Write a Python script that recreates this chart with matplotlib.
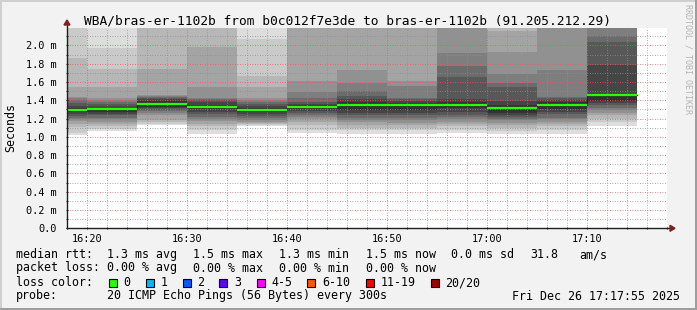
import matplotlib
matplotlib.use('Agg')
import matplotlib.pyplot as plt
import numpy as np
from matplotlib.patches import Rectangle, Polygon
from matplotlib.ticker import MultipleLocator, FuncFormatter

W, H = 697, 310
MONO = 'DejaVu Sans Mono'

# segment edges (minutes after 16:00), 5 min steps
edges = [18, 20, 25, 30, 35, 40, 45, 50, 55, 60, 65, 70, 75]
# median rtt per step (ms)
median = [1.296, 1.30, 1.36, 1.325, 1.296, 1.33, 1.348, 1.348, 1.348, 1.31, 1.35, 1.457]
# 20 sorted pings per step (ms), values above the top of the graph are cut off
pings = [
    [1.016, 1.04, 1.107, 1.14, 1.17, 1.19, 1.21, 1.23, 1.245, 1.27, 1.32, 1.34, 1.37, 1.40, 1.42, 1.435, 1.545, 1.866, 2.3, 2.4],
    [1.06, 1.09, 1.12, 1.14, 1.165, 1.19, 1.21, 1.238, 1.255, 1.275, 1.32, 1.34, 1.36, 1.38, 1.40, 1.42, 1.55, 1.745, 1.97, 2.3],
    [1.13, 1.145, 1.16, 1.18, 1.238, 1.26, 1.28, 1.295, 1.31, 1.33, 1.39, 1.41, 1.43, 1.44, 1.45, 1.46, 1.745, 2.3, 2.35, 2.4],
    [1.035, 1.08, 1.12, 1.14, 1.17, 1.19, 1.22, 1.25, 1.27, 1.30, 1.35, 1.38, 1.40, 1.41, 1.42, 1.55, 1.98, 2.3, 2.35, 2.4],
    [1.12, 1.125, 1.135, 1.15, 1.165, 1.18, 1.21, 1.23, 1.25, 1.27, 1.32, 1.34, 1.36, 1.38, 1.40, 1.42, 1.545, 1.67, 2.07, 2.3],
    [1.04, 1.08, 1.13, 1.165, 1.20, 1.22, 1.24, 1.26, 1.28, 1.30, 1.35, 1.36, 1.38, 1.43, 1.49, 1.61, 2.3, 2.35, 2.4, 2.45],
    [1.035, 1.07, 1.10, 1.13, 1.16, 1.18, 1.21, 1.24, 1.265, 1.29, 1.38, 1.41, 1.446, 1.50, 1.59, 1.73, 2.3, 2.35, 2.4, 2.45],
    [1.03, 1.08, 1.10, 1.13, 1.15, 1.18, 1.21, 1.238, 1.265, 1.29, 1.37, 1.39, 1.41, 1.43, 1.56, 1.61, 2.3, 2.35, 2.4, 2.45],
    [1.04, 1.08, 1.12, 1.14, 1.165, 1.19, 1.22, 1.24, 1.27, 1.31, 1.38, 1.41, 1.657, 1.77, 1.92, 2.3, 2.35, 2.4, 2.45, 2.5],
    [1.035, 1.06, 1.10, 1.13, 1.15, 1.18, 1.20, 1.22, 1.24, 1.26, 1.35, 1.39, 1.548, 1.59, 1.683, 1.927, 2.156, 2.3, 2.35, 2.4],
    [1.035, 1.07, 1.12, 1.14, 1.165, 1.19, 1.21, 1.25, 1.275, 1.30, 1.38, 1.40, 1.42, 1.438, 1.73, 2.3, 2.35, 2.4, 2.45, 2.5],
    [1.12, 1.16, 1.20, 1.24, 1.265, 1.29, 1.32, 1.35, 1.37, 1.39, 1.47, 1.79, 2.036, 2.10, 2.3, 2.35, 2.4, 2.45, 2.5, 2.55],
]

loss_labels = ['0', '1', '2', '3', '4-5', '6-10', '11-19', '20/20']
loss_colors = ['#26ff00', '#00b8ff', '#0059ff', '#5e00ff', '#ff00ff', '#ff5500', '#ff0000', '#a10000']

title = 'WBA/bras-er-1102b from b0c012f7e3de to bras-er-1102b (91.205.212.29)'


def fx(x):
    return x / W


def fy(y):
    return 1 - y / H


fig = plt.figure(figsize=(W / 100, H / 100), dpi=100)
fig.patch.set_facecolor('#f2f2f2')
# rrdtool style border shading
fig.add_artist(Rectangle((0, fy(2)), 1, 2 / H, transform=fig.transFigure, color='#cfcfcf', lw=0))
fig.add_artist(Rectangle((0, 0), 2 / W, 1, transform=fig.transFigure, color='#cfcfcf', lw=0))
fig.add_artist(Rectangle((0, 0), 1, 2 / H, transform=fig.transFigure, color='#9e9e9e', lw=0))
fig.add_artist(Rectangle((fx(W - 2), 0), 2 / W, 1, transform=fig.transFigure, color='#9e9e9e', lw=0))

ax = fig.add_axes([fx(67), fy(228.3), 600 / W, 200.3 / H])
ax.set_facecolor('white')

# smoke: nested bands, lighter outside, darker inside
p = np.array(pings)
x = np.array(edges)
half = 10
for i in range(half):
    grey = int(190 / half * (half - 1 - i)) + 50
    col = '#%02x%02x%02x' % (grey, grey, grey)
    lo = np.append(p[:, i], p[-1, i])
    hi = np.append(p[:, 19 - i], p[-1, 19 - i])
    ax.fill_between(x, lo, hi, step='post', color=col, lw=0, zorder=1)

# median line
med = np.append(median, median[-1])
ax.step(x, med, where='post', color='#202020', lw=0.8, zorder=3)
ax.hlines(median, edges[:-1], edges[1:], color=loss_colors[0], lw=1.6, zorder=4)

ax.set_xlim(18, 78)
ax.set_ylim(0, 2.19)

ax.xaxis.set_major_locator(MultipleLocator(10))
ax.xaxis.set_minor_locator(MultipleLocator(2))
ax.yaxis.set_major_locator(MultipleLocator(0.2))
ax.yaxis.set_minor_locator(MultipleLocator(0.1))
ax.xaxis.set_major_formatter(FuncFormatter(lambda v, pos: '%d:%02d' % (16 + int(v) // 60, int(v) % 60)))
ax.yaxis.set_major_formatter(FuncFormatter(lambda v, pos: '0.0' if abs(v) < 1e-9 else '%.1f m' % v))

ax.set_axisbelow(False)
ax.grid(which='minor', color=(0.56, 0.56, 0.56, 0.55), linestyle=(0, (1, 2)), lw=0.6)
ax.grid(which='major', color=(0.9, 0.35, 0.35, 0.5), linestyle=(0, (1, 2)), lw=0.6)
for gl in ax.get_xgridlines() + ax.get_ygridlines():
    gl.set_zorder(2.5)

for s in ax.spines.values():
    s.set_visible(False)
ax.tick_params(which='both', length=2, width=0.8, direction='inout', color='#1f1f1f',
               labelsize=7.4)
ax.tick_params(axis='y', pad=6.5)
ax.tick_params(axis='x', pad=3)
for lab in ax.get_xticklabels() + ax.get_yticklabels():
    lab.set_fontfamily(MONO)

# axis lines with arrows
ax.plot([0, 1.008], [0, 0], transform=ax.transAxes, color='#1f1f1f', lw=1, clip_on=False, zorder=5)
ax.plot([0, 0], [0, 1.02], transform=ax.transAxes, color='#1f1f1f', lw=1, clip_on=False, zorder=5)
ax.add_patch(Polygon([[fx(670), fy(225.3)], [fx(670), fy(231.3)], [fx(675), fy(228.3)]],
                     closed=True, transform=fig.transFigure, color='#801f1f', clip_on=False, zorder=6))
ax.add_patch(Polygon([[fx(64), fy(25)], [fx(70), fy(25)], [fx(67), fy(20)]],
                     closed=True, transform=fig.transFigure, color='#801f1f', clip_on=False, zorder=6))

fig.text(fx(347.5), fy(24), title, family=MONO, fontsize=9.3, ha='center', va='baseline')
fig.text(fx(11), fy(128), 'Seconds', family=MONO, fontsize=8.4, rotation=90, ha='center', va='center')
fig.text(fx(688), fy(4), 'RRDTOOL / TOBI OETIKER', family=MONO, fontsize=6, rotation=270,
         ha='center', va='top', color='#b4b4b4')

fs = 8.4
row1 = [(16, 'median rtt:'), (107, '1.3 ms avg'), (193, '1.5 ms max'), (279, '1.3 ms min'),
        (365.7, '1.5 ms now'), (451, '0.0 ms sd'), (530, '31.8'), (579, 'am/s')]
row2 = [(16, 'packet loss:'), (107, '0.00 % avg'), (193, '0.00 % max'), (279, '0.00 % min'),
        (365.7, '0.00 % now')]
for xx, t in row1:
    fig.text(fx(xx), fy(258), t, family=MONO, fontsize=fs, va='baseline')
for xx, t in row2:
    fig.text(fx(xx), fy(271.5), t, family=MONO, fontsize=fs, va='baseline')

fig.text(fx(16), fy(286), 'loss color:', family=MONO, fontsize=fs, va='baseline')
sq_x = [108.7, 145.7, 182.7, 219.3, 256.7, 307.3, 365.7, 430.7]
for xx, lab, col in zip(sq_x, loss_labels, loss_colors):
    fig.add_artist(Rectangle((fx(xx), fy(286.5)), 8 / W, 8 / H, transform=fig.transFigure,
                             facecolor=col, edgecolor='black', lw=0.8))
    fig.text(fx(xx + 14.5), fy(286), lab, family=MONO, fontsize=fs, va='baseline')

fig.text(fx(16), fy(299.5), 'probe:', family=MONO, fontsize=fs, va='baseline')
fig.text(fx(107), fy(299.5), '20 ICMP Echo Pings (56 Bytes) every 300s', family=MONO, fontsize=fs, va='baseline')
fig.text(fx(680), fy(299.5), 'Fri Dec 26 17:17:55 2025', family=MONO, fontsize=fs, va='baseline', ha='right')

fig.savefig('out.png', dpi=100, facecolor=fig.get_facecolor())
